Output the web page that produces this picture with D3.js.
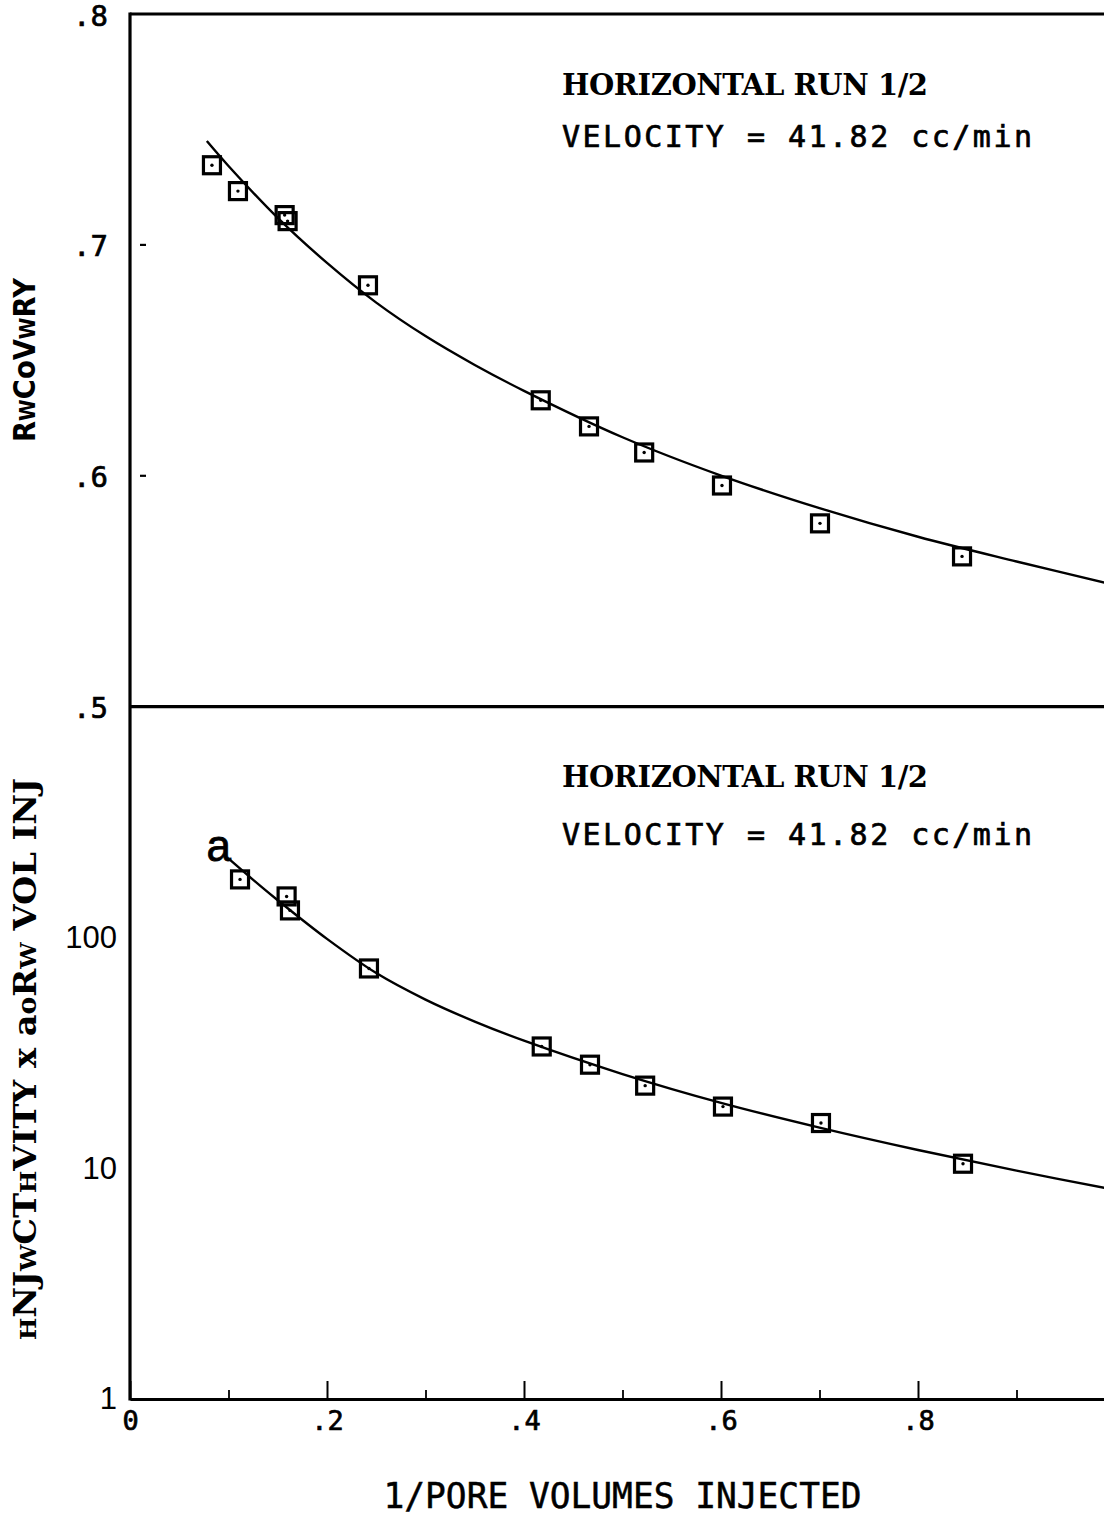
<!DOCTYPE html>
<html>
<head>
<meta charset="utf-8">
<script src="https://cdn.jsdelivr.net/npm/d3@7"></script>
<style>
  html, body { margin: 0; padding: 0; background: #fff; }
  svg { display: block; }
</style>
</head>
<body>
<script>
// ---------------- data ----------------
const xTickVals = [0, 0.2, 0.4, 0.6, 0.8];
const xTickLabels = ["0", ".2", ".4", ".6", ".8"];
const xMinorTicks = [0.1, 0.3, 0.5, 0.7, 0.9];

const recTickVals = [0.8, 0.7, 0.6, 0.5];
const recTickLabels = [".8", ".7", ".6", ".5"];
const recDashTicks = [0.7, 0.6];

const injTickVals = [1, 10, 100];
const injTickLabels = ["1", "10", "100"];

// Top panel: recovery vs 1/pore volumes injected
const recX = [0.0832, 0.1096, 0.157, 0.160, 0.2416, 0.417, 0.466, 0.522, 0.601, 0.7005, 0.8447];
const recY = [0.7345, 0.7233, 0.7129, 0.7103, 0.6825, 0.6327, 0.6214, 0.6101, 0.5958, 0.5794, 0.5651];
const recFitX = [0.078, 0.1, 0.15, 0.2, 0.25, 0.3, 0.35, 0.4, 0.5, 0.6, 0.7, 0.8, 0.9, 1.0];
const recFitY = [0.745, 0.7342, 0.7117, 0.6922, 0.6750, 0.6605, 0.6480, 0.6368, 0.6167, 0.6001, 0.5860, 0.5736, 0.5629, 0.5527];

// Bottom panel: injectivity x pore vol inj (log scale)
const injX = [0.1117, 0.159, 0.1624, 0.2426, 0.418, 0.467, 0.523, 0.602, 0.7015, 0.8457];
const injY = [178.5, 150.6, 131, 73.4, 33.7, 28.1, 22.8, 18.5, 15.7, 10.46];
const injFitX = [0.101, 0.132, 0.15, 0.2, 0.25, 0.3, 0.35, 0.4, 0.5, 0.6, 0.7, 0.8, 0.9, 1.0];
const injFitY = [218, 167.7, 145, 98.6, 70.1, 53.8, 43.2, 35.7, 25.6, 19.2, 15.0, 12.0, 9.77, 8.05];

const titleLine1 = "HORIZONTAL RUN 1/2";
const titleLine2 = "VELOCITY = 41.82 cc/min";
const xTitle = "1/PORE VOLUMES INJECTED";
const curveLabel = "a";
// y titles as drawn (mixed glyph sizes)
const recTitleParts = [["R", 1], ["W", 0.72], ["C", 1], ["o", 1], ["V", 1], ["W", 0.72], ["R", 1], ["Y", 1]];
const injTitleParts = [["H", 0.7], ["NJ", 1], ["W", 0.7], ["CT", 1], ["H", 0.7], ["VITY x ", 1], ["a", 1], ["o", 0.8], ["R", 1], ["W", 0.7], [" VOL  INJ", 1]];

(function () {
// ---------------- layout ----------------
const W = 1104, H = 1522;
const pL = 130, pR = 1115, pT = 14, pM = 706.7, pB = 1399;

const svg = d3.select("body").append("svg")
  .attr("width", W).attr("height", H)
  .attr("viewBox", `0 0 ${W} ${H}`);
svg.append("rect").attr("width", W).attr("height", H).attr("fill", "#fff");

const x = d3.scaleLinear().domain([0, 1]).range([pL, pR]);
const yRec = d3.scaleLinear().domain([0.5, 0.8]).range([pM, pT]);
const yInj = d3.scaleLog().domain([1, 1000]).range([pB, pM]);

const defs = svg.append("defs");
defs.append("clipPath").attr("id", "clipTop").append("rect")
  .attr("x", pL).attr("y", pT).attr("width", pR - pL).attr("height", pM - pT);
defs.append("clipPath").attr("id", "clipBot").append("rect")
  .attr("x", pL).attr("y", pM).attr("width", pR - pL).attr("height", pB - pM);

const ink = "#000";
const monoSans = "'DejaVu Sans Mono', monospace";
const serifBold = "'DejaVu Serif', 'Liberation Serif', serif";

// ---------------- frame ----------------
const frame = svg.append("g").attr("stroke", ink).attr("stroke-width", 3.2).attr("fill", "none");
frame.append("line").attr("x1", pL).attr("x2", pR).attr("y1", yRec(0.8)).attr("y2", yRec(0.8));
frame.append("line").attr("x1", pL).attr("x2", pR).attr("y1", yRec(0.5)).attr("y2", yRec(0.5));
frame.append("line").attr("x1", pL).attr("x2", pL).attr("y1", yRec(0.8) - 1.6).attr("y2", yInj(1) + 1.6);
frame.append("line").attr("x1", pR).attr("x2", pR).attr("y1", yRec(0.8)).attr("y2", yInj(1));

// ---------------- x axis ----------------
const xAxis = d3.axisBottom(x).tickValues(xTickVals)
  .tickFormat((d, i) => xTickLabels[i]).tickSizeInner(-18).tickSizeOuter(0).tickPadding(12);
const gx = svg.append("g").attr("transform", `translate(0,${pB})`).call(xAxis);
gx.select(".domain").attr("stroke", ink).attr("stroke-width", 3.2);
gx.selectAll(".tick line").attr("stroke", ink).attr("stroke-width", 2);
gx.selectAll(".tick text").attr("fill", ink).attr("font-family", monoSans).attr("font-size", 27)
  .attr("stroke", ink).attr("stroke-width", 0.7);

const xMinor = d3.axisBottom(x).tickValues(xMinorTicks).tickFormat("").tickSizeInner(-9).tickSizeOuter(0);
const gxm = svg.append("g").attr("transform", `translate(0,${pB})`).call(xMinor);
gxm.select(".domain").remove();
gxm.selectAll(".tick line").attr("stroke", ink).attr("stroke-width", 1.8);

svg.append("text").attr("x", x(0.5)).attr("y", 1508)
  .attr("text-anchor", "middle").attr("font-family", monoSans).attr("font-size", 35)
  .attr("textLength", 478).attr("lengthAdjust", "spacingAndGlyphs")
  .attr("stroke", ink).attr("stroke-width", 0.5)
  .attr("fill", ink).text(xTitle);

// ---------------- top y axis ----------------
const recAxis = d3.axisLeft(yRec).tickValues(recTickVals)
  .tickFormat((d, i) => recTickLabels[i]).tickSize(0).tickPadding(22);
const gyr = svg.append("g").attr("transform", `translate(${pL},0)`).call(recAxis);
gyr.select(".domain").remove();
gyr.selectAll(".tick text").attr("fill", ink).attr("font-family", monoSans).attr("font-size", 29)
  .attr("dy", "0.38em").attr("stroke", ink).attr("stroke-width", 0.7);

svg.append("g").selectAll("line").data(recDashTicks).join("line")
  .attr("x1", pL + 10).attr("x2", pL + 16)
  .attr("y1", d => yRec(d)).attr("y2", d => yRec(d))
  .attr("stroke", ink).attr("stroke-width", 2.2);

// ---------------- bottom y axis ----------------
const injAxis = d3.axisLeft(yInj).tickValues(injTickVals)
  .tickFormat((d, i) => injTickLabels[i]).tickSize(0).tickPadding(13);
const gyi = svg.append("g").attr("transform", `translate(${pL},0)`).call(injAxis);
gyi.select(".domain").remove();
gyi.selectAll(".tick text").attr("fill", ink).attr("font-family", "'Liberation Sans', Arial, sans-serif").attr("font-size", 31);

// ---------------- y titles ----------------
function rotatedTitle(cx, cy, parts, size, family, weight, len) {
  const t = svg.append("text")
    .attr("transform", `translate(${cx},${cy}) rotate(-90)`)
    .attr("text-anchor", "middle").attr("font-family", family)
    .attr("font-weight", weight).attr("font-size", size).attr("fill", ink)
    .attr("textLength", len).attr("lengthAdjust", "spacingAndGlyphs");
  parts.forEach(p => t.append("tspan").attr("font-size", size * p[1]).text(p[0]));
}
rotatedTitle(35, 360, recTitleParts, 30, "'DejaVu Sans', sans-serif", "bold", 164);
rotatedTitle(36, 1059, injTitleParts, 32, serifBold, "bold", 562);

// ---------------- annotations ----------------
function annot(yBase1, yBase2) {
  svg.append("text").attr("x", 562).attr("y", yBase1)
    .attr("font-family", serifBold).attr("font-weight", "bold")
    .attr("font-size", 29).attr("fill", ink)
    .attr("textLength", 366).attr("lengthAdjust", "spacing")
    .text(titleLine1);
  svg.append("text").attr("x", 562).attr("y", yBase2)
    .attr("font-family", monoSans).attr("font-size", 30).attr("fill", ink)
    .attr("stroke", ink).attr("stroke-width", 0.7)
    .attr("textLength", 470).attr("lengthAdjust", "spacing")
    .text(titleLine2);
}
annot(95, 147);
annot(787, 845);

// ---------------- curves ----------------
const lineRec = d3.line().x((d, i) => x(recFitX[i])).y(d => yRec(d)).curve(d3.curveCatmullRom.alpha(0.5));
svg.append("path").attr("clip-path", "url(#clipTop)").attr("d", lineRec(recFitY))
  .attr("fill", "none").attr("stroke", ink).attr("stroke-width", 2.4);

const lineInj = d3.line().x((d, i) => x(injFitX[i])).y(d => yInj(d)).curve(d3.curveCatmullRom.alpha(0.5));
svg.append("path").attr("clip-path", "url(#clipBot)").attr("d", lineInj(injFitY))
  .attr("fill", "none").attr("stroke", ink).attr("stroke-width", 2.4);

svg.append("text").attr("x", x(injFitX[0]) - 23).attr("y", yInj(injFitY[0]) + 2)
  .attr("font-family", "'Liberation Sans', Arial, sans-serif").attr("font-size", 44)
  .attr("stroke", ink).attr("stroke-width", 0.8)
  .attr("fill", ink).text(curveLabel);

// ---------------- markers ----------------
function markers(xs, ys, yScale) {
  const g = svg.append("g");
  const s = 17;
  g.selectAll("rect").data(ys).join("rect")
    .attr("x", (d, i) => x(xs[i]) - s / 2).attr("y", d => yScale(d) - s / 2)
    .attr("width", s).attr("height", s)
    .attr("fill", "none").attr("stroke", ink).attr("stroke-width", 3.2);
  g.selectAll("circle").data(ys).join("circle")
    .attr("cx", (d, i) => x(xs[i])).attr("cy", d => yScale(d)).attr("r", 1.7).attr("fill", ink);
}
markers(recX, recY, yRec);
markers(injX, injY, yInj);
})();
</script>
</body>
</html>
